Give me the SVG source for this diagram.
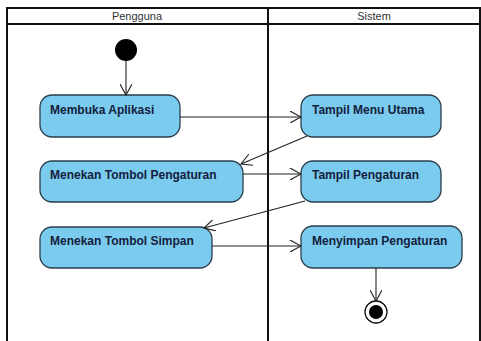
<svg xmlns="http://www.w3.org/2000/svg" width="481" height="341" viewBox="0 0 481 341">
<defs>
<style>
.lane{fill:none;stroke:#111;stroke-width:2}
.hdr{font-family:"Liberation Sans",Arial,sans-serif;font-size:11px;fill:#333;text-anchor:middle}
.act rect{fill:#7bcbef;stroke:#2b3e4c;stroke-width:1.3}
.act text{font-family:"Liberation Sans",Arial,sans-serif;font-size:12px;font-weight:bold;fill:#14213d}
.conn path{fill:none;stroke:#222;stroke-width:1.1;marker-end:url(#arr)}
</style>
<marker id="arr" viewBox="0 0 12 12" refX="11" refY="6" markerWidth="12" markerHeight="12" markerUnits="userSpaceOnUse" orient="auto">
<path d="M0,0 L11,6 L0,12" fill="none" stroke="#222" stroke-width="1.1"/>
</marker>
</defs>
<rect width="481" height="341" fill="#fff"/>
<g id="swimlanes">
<path class="lane" d="M7,341 V8 H480 V341 M7,24 H480 M268,8 V341"/>
<text class="hdr" x="137" y="20">Pengguna</text>
<text class="hdr" x="374" y="20">Sistem</text>
</g>
<g id="start"><circle cx="126" cy="50" r="11" fill="#000"/></g>
<g id="membuka" class="act"><rect x="40" y="95" width="140" height="42" rx="12"/><text x="50" y="114">Membuka Aplikasi</text></g>
<g id="menekan-pengaturan" class="act"><rect x="40" y="161" width="203" height="41" rx="12"/><text x="50" y="179">Menekan Tombol Pengaturan</text></g>
<g id="menekan-simpan" class="act"><rect x="40" y="227" width="172" height="41" rx="12"/><text x="50" y="245">Menekan Tombol Simpan</text></g>
<g id="tampil-menu" class="act"><rect x="301" y="95" width="140" height="42" rx="12"/><text x="312" y="114">Tampil Menu Utama</text></g>
<g id="tampil-pengaturan" class="act"><rect x="301" y="161" width="140" height="41" rx="12"/><text x="312" y="179">Tampil Pengaturan</text></g>
<g id="menyimpan" class="act"><rect x="301" y="226" width="161" height="42" rx="12"/><text x="312" y="245">Menyimpan Pengaturan</text></g>
<g id="end"><circle cx="376" cy="312" r="11" fill="#fff" stroke="#111" stroke-width="1.3"/><circle cx="376" cy="312" r="7" fill="#000"/></g>
<g id="connectors" class="conn">
<path d="M126,61 V95"/>
<path d="M180,117 H301"/>
<path d="M307,136 L241,164"/>
<path d="M243,174 H301"/>
<path d="M305,201 L204,228"/>
<path d="M212,246 H301"/>
<path d="M376,268 V301"/>
</g>
</svg>
